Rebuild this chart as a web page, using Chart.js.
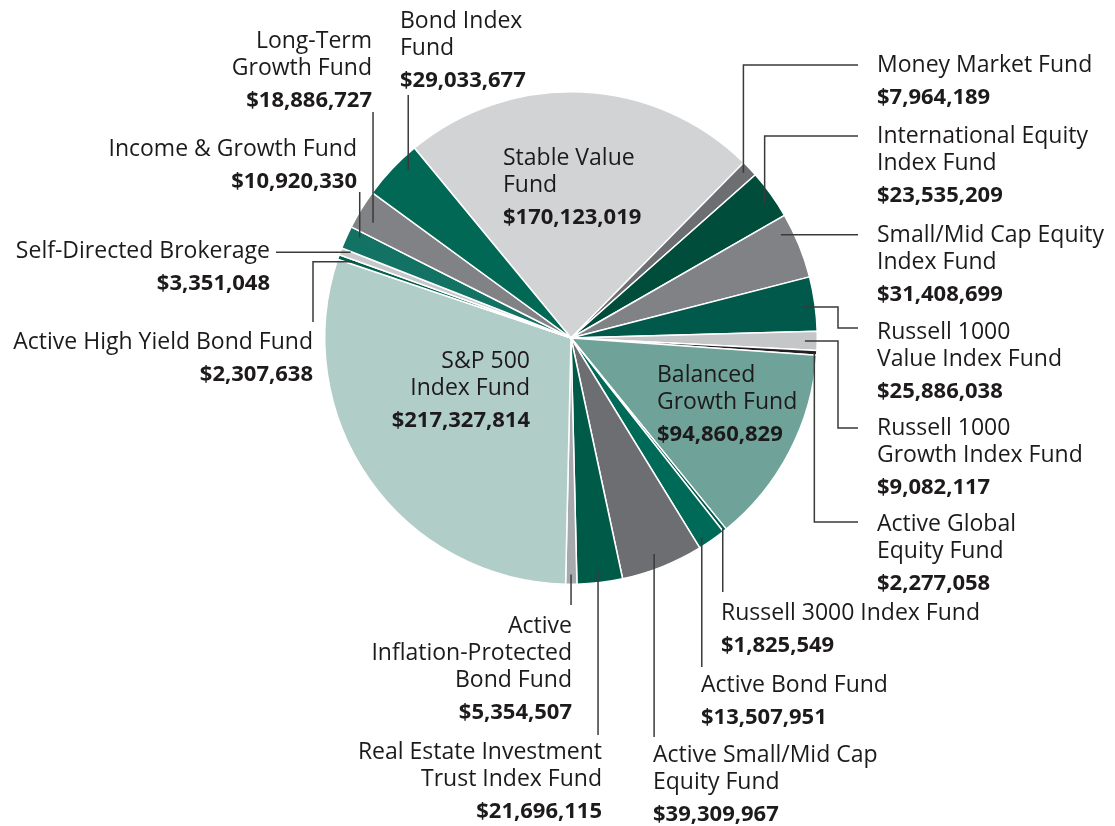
<!DOCTYPE html>
<html>
<head>
<meta charset="utf-8">
<script src="https://cdn.jsdelivr.net/npm/chart.js@4.4.1/dist/chart.umd.min.js"></script>
<style>
  html, body { margin: 0; padding: 0; background: #fff; }
  #wrap { width: 1115px; height: 826px; }
</style>
</head>
<body>
<div id="wrap"><canvas id="chartFondos" width="1115" height="826"></canvas></div>
<script>
// fondos en el orden del gráfico (sentido horario desde Stable Value)
const fundNames = [
    'Stable Value Fund', 'Money Market Fund', 'International Equity Index Fund',
    'Small/Mid Cap Equity Index Fund', 'Russell 1000 Value Index Fund',
    'Russell 1000 Growth Index Fund', 'Active Global Equity Fund',
    'Balanced Growth Fund', 'Russell 3000 Index Fund', 'Active Bond Fund',
    'Active Small/Mid Cap Equity Fund', 'Real Estate Investment Trust Index Fund',
    'Active Inflation-Protected Bond Fund', 'S&P 500 Index Fund',
    'Active High Yield Bond Fund', 'Self-Directed Brokerage',
    'Income & Growth Fund', 'Long-Term Growth Fund', 'Bond Index Fund'
];

const fundValues = [
    170123019, 7964189, 23535209, 31408699, 25886038, 9082117, 2277058,
    94860829, 1825549, 13507951, 39309967, 21696115, 5354507, 217327814,
    2307638, 3351048, 10920330, 18886727, 29033677
];

// cómo se parte cada nombre en líneas
const nameLines = [
    ['Stable Value', 'Fund'], ['Money Market Fund'], ['International Equity', 'Index Fund'],
    ['Small/Mid Cap Equity', 'Index Fund'], ['Russell 1000', 'Value Index Fund'],
    ['Russell 1000', 'Growth Index Fund'], ['Active Global', 'Equity Fund'],
    ['Balanced', 'Growth Fund'], ['Russell 3000 Index Fund'], ['Active Bond Fund'],
    ['Active Small/Mid Cap', 'Equity Fund'], ['Real Estate Investment', 'Trust Index Fund'],
    ['Active', 'Inflation-Protected', 'Bond Fund'], ['S&P 500', 'Index Fund'],
    ['Active High Yield Bond Fund'], ['Self-Directed Brokerage'],
    ['Income & Growth Fund'], ['Long-Term', 'Growth Fund'], ['Bond Index', 'Fund']
];

const sliceColors = [
    '#d1d3d4', '#6d6e71', '#004d3c', '#808285', '#00594a', '#c4c6c8', '#231f20',
    '#6fa39a', '#005a48', '#006a58', '#6d6e71', '#005a48', '#a7a9ac', '#b1cdc8',
    '#00614f', '#c6c8ca', '#127263', '#808285', '#006854'
];

// posición de cada rótulo (x, primera línea base, alineación) y guía
const labelLayout = [
    { x: 503, y: 165, align: 'left' },
    { x: 877, y: 72, align: 'left', lead: { t: 0.42, rf: 0.97, path: [['v', 65], ['h', 858]] } },
    { x: 877, y: 143, align: 'left', lead: { t: 0.56, rf: 0.96, path: [['v', 136], ['h', 858]] } },
    { x: 877, y: 242, align: 'left', lead: { t: 0.24, rf: 0.95, path: [['h', 858]] } },
    { x: 877, y: 339, align: 'left', lead: { t: 0.53, rf: 0.95, path: [['h', 838], ['v', 328], ['h', 858]] } },
    { x: 877, y: 435, align: 'left', lead: { t: 0.51, rf: 0.95, path: [['h', 838], ['v', 428], ['h', 858]] } },
    { x: 877, y: 531, align: 'left', lead: { t: 0.53, rf: 0.99, path: [['v', 522], ['h', 858]] } },
    { x: 657, y: 382, align: 'left' },
    { x: 721, y: 620, align: 'left', lead: { t: 0.67, rf: 0.99, path: [['v', 592]] } },
    { x: 701, y: 692, align: 'left', lead: { t: 0.75, rf: 0.97, path: [['v', 667]] } },
    { x: 653, y: 762, align: 'left', lead: { t: 0.54, rf: 0.94, path: [['v', 737]] } },
    { x: 602, y: 759, align: 'right', lead: { t: 0.51, rf: 0.95, path: [['v', 735]] } },
    { x: 572, y: 633, align: 'right', lead: { t: 0.52, rf: 0.96, path: [['v', 605]] } },
    { x: 530, y: 368, align: 'right' },
    { x: 313, y: 349, align: 'right', lead: { t: 0.7, rf: 0.93, path: [['h', 313], ['v', 322]] } },
    { x: 270, y: 258, align: 'right', lead: { t: 0.9, rf: 0.96, path: [['h', 276]] } },
    { x: 357, y: 156, align: 'right', lead: { t: 0.74, rf: 0.95, path: [['v', 192]] } },
    { x: 372, y: 48, align: 'right', lead: { t: 0.36, rf: 0.93, path: [['v', 112]] } },
    { x: 400, y: 28, align: 'left', lead: { t: 0.68, rf: 0.95, path: [['v', 95]] } }
];

const FUENTE = '"Open Sans", "Noto Sans", sans-serif';
const COLOR_TEXTO = '#1d1a1b';

const rotulosPlugin = {
    id: 'rotulos',
    afterDraw(chart) {
        const ctx = chart.ctx;
        const arcos = chart.getDatasetMeta(0).data;
        ctx.save();

        // guías
        ctx.strokeStyle = '#3a3a3a';
        ctx.lineWidth = 1.5;
        labelLayout.forEach((lay, i) => {
            if (!lay.lead) return;
            const a = arcos[i].getProps(['x', 'y', 'startAngle', 'endAngle', 'outerRadius'], true);
            const ang = a.startAngle + lay.lead.t * (a.endAngle - a.startAngle);
            let px = a.x + Math.cos(ang) * a.outerRadius * lay.lead.rf;
            let py = a.y + Math.sin(ang) * a.outerRadius * lay.lead.rf;
            ctx.beginPath();
            ctx.moveTo(px, py);
            lay.lead.path.forEach(([dir, v]) => {
                if (dir === 'v') py = v; else px = v;
                ctx.lineTo(px, py);
            });
            ctx.stroke();
        });

        // textos
        ctx.fillStyle = COLOR_TEXTO;
        ctx.textBaseline = 'alphabetic';
        labelLayout.forEach((lay, i) => {
            ctx.textAlign = lay.align;
            let y = lay.y;
            ctx.font = '23px ' + FUENTE;
            nameLines[i].forEach((linea, k) => {
                if (k > 0) y += 27;
                ctx.fillText(linea, lay.x, y);
            });
            y += 32;
            ctx.font = 'bold 22px ' + FUENTE;
            ctx.fillText('$' + fundValues[i].toLocaleString('en-US'), lay.x, y);
        });
        ctx.restore();
    }
};

new Chart(document.getElementById('chartFondos'), {
    type: 'pie',
    data: {
        labels: fundNames,
        datasets: [{
            data: fundValues,
            backgroundColor: sliceColors,
            borderColor: '#ffffff',
            borderWidth: 1.5,
            hoverOffset: 0
        }]
    },
    options: {
        responsive: false,
        animation: false,
        rotation: -39.5,
        layout: { padding: { left: 324, right: 297, top: 91, bottom: 241 } },
        plugins: {
            legend: { display: false },
            tooltip: { enabled: false }
        }
    },
    plugins: [rotulosPlugin]
});
</script>
</body>
</html>
